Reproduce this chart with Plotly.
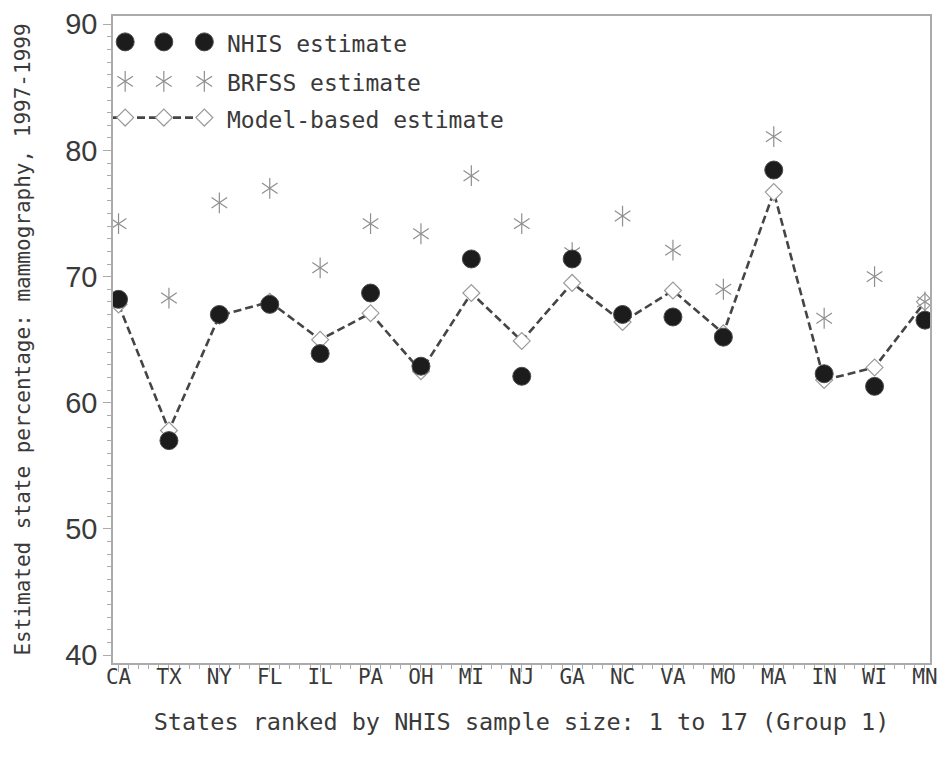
import plotly.graph_objects as go

# ---------------- data ----------------
states = ["CA", "TX", "NY", "FL", "IL", "PA", "OH", "MI", "NJ",
          "GA", "NC", "VA", "MO", "MA", "IN", "WI", "MN"]
nhis_estimate = [68.2, 57.0, 67.0, 67.8, 63.9, 68.7, 62.9, 71.4, 62.1,
                 71.4, 67.0, 66.8, 65.2, 78.45, 62.3, 61.3, 66.55]
brfss_estimate = [74.2, 68.3, 75.85, 77.0, 70.7, 74.2, 73.4, 78.0, 74.2,
                  71.9, 74.8, 72.1, 69.0, 81.1, 66.7, 70.0, 68.0]
model_estimate = [67.8, 57.8, 66.9, 68.0, 65.0, 67.1, 62.5, 68.7, 64.9,
                  69.5, 66.4, 68.9, 65.5, 76.7, 61.8, 62.8, 68.0]
y_tick_values = [40, 50, 60, 70, 80, 90]
legend_labels = ["NHIS estimate", "BRFSS estimate", "Model-based estimate"]

x_pos = list(range(len(states)))

MONO = "DejaVu Sans Mono"
TEXT = "#3a3a3a"
AXIS = "#ababab"

circle_style = dict(symbol="circle", size=18, color="#1c1c1c",
                    line=dict(color="#4a4a4a", width=1))
star_color = "#8f8f8f"
diamond_style = dict(symbol="diamond", size=13, color="white",
                     line=dict(color="#9a9a9a", width=1.2))
dash_line = dict(color="#454545", width=2.6, dash="8px,4px")

fig = go.Figure()

# model-based estimate (dashed line + open diamonds)
fig.add_trace(go.Scatter(x=x_pos, y=model_estimate, mode="lines+markers",
                         line=dash_line, marker=diamond_style,
                         name=legend_labels[2], showlegend=False))
# BRFSS estimate (six-armed star = y-up + y-down)
for sym in ["y-up-open", "y-down-open"]:
    fig.add_trace(go.Scatter(x=x_pos, y=brfss_estimate, mode="markers",
                             marker=dict(symbol=sym, size=13, color=star_color,
                                         line=dict(color=star_color, width=1.2)),
                             name=legend_labels[1], showlegend=False))
# NHIS estimate (filled circles)
fig.add_trace(go.Scatter(x=x_pos, y=nhis_estimate, mode="markers",
                         marker=circle_style, name=legend_labels[0],
                         showlegend=False))

# ---------------- SAS-style legend (3 samples per entry) ----------------
leg_sample_x = [0.0149, 0.0622, 0.1118]
leg_row_y = [0.960, 0.899, 0.843]
leg_text_x = 0.137

fig.add_trace(go.Scatter(x=leg_sample_x, y=[leg_row_y[0]] * 3, mode="markers",
                         marker=circle_style, xaxis="x2", yaxis="y2",
                         showlegend=False, hoverinfo="skip"))
for sym in ["y-up-open", "y-down-open"]:
    fig.add_trace(go.Scatter(x=leg_sample_x, y=[leg_row_y[1]] * 3, mode="markers",
                             marker=dict(symbol=sym, size=13, color=star_color,
                                         line=dict(color=star_color, width=1.2)),
                             xaxis="x2", yaxis="y2", showlegend=False,
                             hoverinfo="skip"))
fig.add_trace(go.Scatter(x=[0.0] + leg_sample_x + [0.12],
                         y=[leg_row_y[2]] * 5, mode="lines",
                         line=dash_line, xaxis="x2", yaxis="y2",
                         showlegend=False, hoverinfo="skip"))
fig.add_trace(go.Scatter(x=leg_sample_x, y=[leg_row_y[2]] * 3, mode="markers",
                         marker=diamond_style, xaxis="x2", yaxis="y2",
                         showlegend=False, hoverinfo="skip"))

for label, yy in zip(legend_labels, leg_row_y):
    fig.add_annotation(x=leg_text_x, y=yy, xref="paper", yref="paper",
                       text=label, showarrow=False, xanchor="left",
                       yanchor="middle", yshift=-2,
                       font=dict(family=MONO, size=23, color=TEXT))

fig.update_layout(
    width=946, height=759,
    margin=dict(l=113, r=8, t=16, b=96),
    paper_bgcolor="white", plot_bgcolor="white",
    showlegend=False,
    xaxis=dict(
        range=[-0.11, 16.1], tickmode="array", tickvals=x_pos, ticktext=states,
        ticks="outside", ticklen=7, tickwidth=1.2, tickcolor=AXIS,
        minor=dict(dtick=0.2, tick0=0, ticks="outside", ticklen=4,
                   tickcolor=AXIS, tickwidth=1, showgrid=False),
        showline=True, linecolor=AXIS, linewidth=1.5, mirror=True,
        showgrid=False, zeroline=False, ticklabelstandoff=-13,
        ticklabeloverflow="allow",
        tickfont=dict(family=MONO, size=21, color=TEXT),
        title=dict(text="States ranked by NHIS sample size: 1 to 17 (Group 1)",
                   font=dict(family=MONO, size=23.5, color=TEXT), standoff=26),
    ),
    yaxis=dict(
        range=[39.37, 90.66], tickmode="array", tickvals=y_tick_values,
        ticks="outside", ticklen=8, tickwidth=1.2, tickcolor=AXIS,
        minor=dict(dtick=1, tick0=0, ticks="outside", ticklen=4,
                   tickcolor=AXIS, tickwidth=1, showgrid=False),
        showline=True, linecolor=AXIS, linewidth=1.5, mirror=True,
        showgrid=False, zeroline=False, ticklabeloverflow="allow",
        tickfont=dict(family="Liberation Sans, Arial", size=29, color=TEXT),
        title=dict(text="Estimated state percentage: mammography, 1997-1999",
                   font=dict(family=MONO, size=21, color=TEXT), standoff=29),
    ),
    xaxis2=dict(range=[0, 1], overlaying="x", visible=False, fixedrange=True),
    yaxis2=dict(range=[0, 1], overlaying="y", visible=False, fixedrange=True),
)

# remove the default page margin so the figure fills the 946x759 window exactly
fig.write_html("out.html",
               config={"displayModeBar": False},
               post_script="document.body.style.margin='0';"
                           "document.body.style.overflow='hidden';")
